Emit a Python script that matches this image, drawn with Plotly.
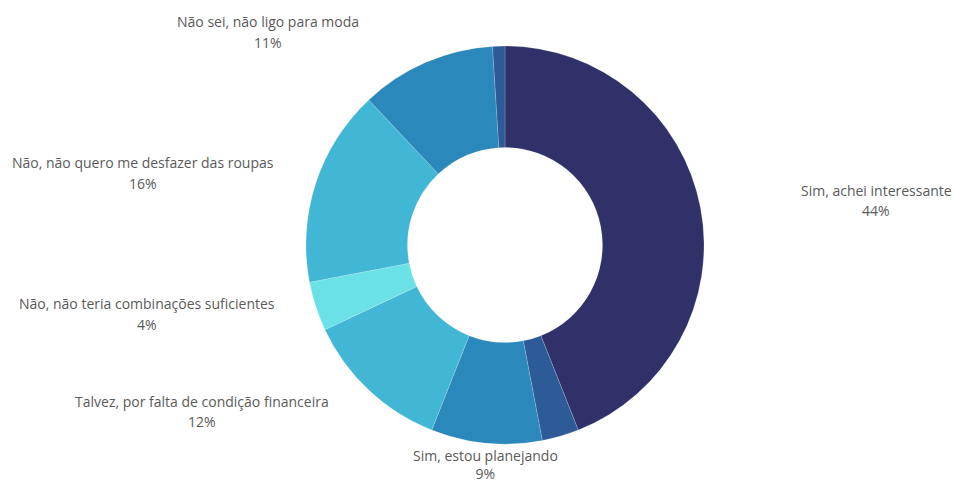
import plotly.graph_objects as go

# Survey answers, clockwise from 12 o'clock
labels = [
    "Sim, achei interessante",
    "Sim, outro",
    "Sim, estou planejando",
    "Talvez, por falta de condição financeira",
    "Não, não teria combinações suficientes",
    "Não, não quero me desfazer das roupas",
    "Não sei, não ligo para moda",
    "Outro",
]
values = [44, 3, 9, 12, 4, 16, 11, 1]
colors = ["#2f3168", "#2d5b98", "#2b88ba", "#41b6d5", "#69e1e7", "#41b6d5", "#2b88ba", "#2d5b98"]
show_label = [True, False, True, True, True, True, True, False]

# Label anchor points in pixels (x from left, y from top) and line gap
label_px = {
    "Sim, achei interessante": (876, 190, 21),
    "Talvez, por falta de condição financeira": (202, 401, 20),
    "Não, não teria combinações suficientes": (147, 303, 21),
    "Não, não quero me desfazer das roupas": (143, 162, 21),
    "Não sei, não ligo para moda": (268, 22, 21),
}
# The bottom label sits against the lower edge as one two-line block
bottom_label = "Sim, estou planejando"
bottom_x = 485

W, H = 954, 484
cx, cy, r = 505, 245, 199

fig = go.Figure(go.Pie(
    labels=labels,
    values=values,
    hole=0.49,
    sort=False,
    direction="clockwise",
    rotation=0,
    marker=dict(colors=colors, line=dict(color="rgba(255,255,255,0.35)", width=0.5)),
    textinfo="none",
    hoverinfo="label+percent",
    showlegend=False,
    domain=dict(x=[(cx - r) / W, (cx + r) / W], y=[(H - cy - r) / H, (H - cy + r) / H]),
))

total = sum(values)
annotations = []
font = dict(family="Open Sans, sans-serif", size=14, color="#5a5a5a")
for lab, val, show in zip(labels, values, show_label):
    if not show:
        continue
    pct = round(100 * val / total)
    if lab == bottom_label:
        annotations.append(dict(x=bottom_x / W, y=0, xref="paper", yref="paper",
                                text=f"{lab}<br>{pct}%", showarrow=False, font=font,
                                xanchor="center", yanchor="bottom", borderpad=0))
        continue
    px, py, gap = label_px[lab]
    annotations.append(dict(x=px / W, y=1 - py / H, xref="paper", yref="paper",
                            text=lab, showarrow=False, font=font,
                            xanchor="center", yanchor="middle"))
    annotations.append(dict(x=px / W, y=1 - (py + gap) / H, xref="paper", yref="paper",
                            text=f"{pct}%", showarrow=False, font=font,
                            xanchor="center", yanchor="middle"))

fig.update_layout(
    width=W, height=H,
    margin=dict(l=0, r=0, t=0, b=0),
    paper_bgcolor="white",
    plot_bgcolor="white",
    annotations=annotations,
)

fig.write_html("out.html")
